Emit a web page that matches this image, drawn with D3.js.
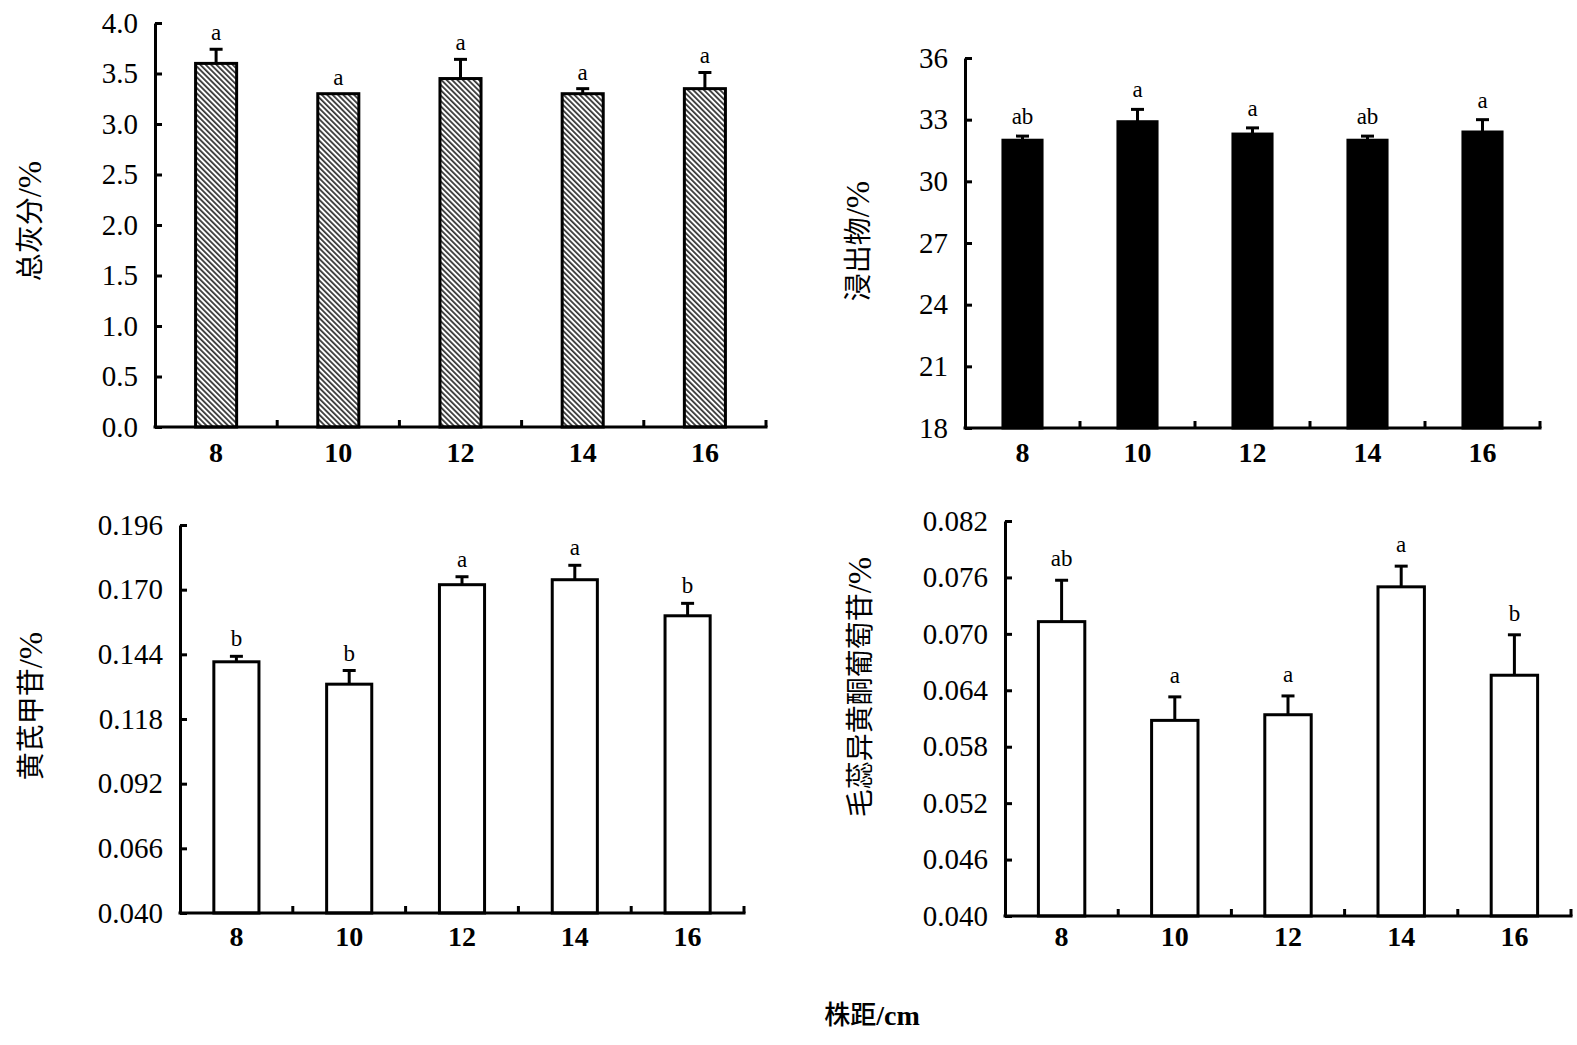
<!DOCTYPE html>
<html>
<head>
<meta charset="utf-8">
<script src="https://cdn.jsdelivr.net/npm/d3@7"></script>
<style>
  html, body { margin: 0; padding: 0; background: #fff; }
  svg { display: block; }
</style>
</head>
<body>
<svg id="chart" width="1577" height="1045"></svg>
<script>
// ---------------- DATA ----------------
const categories = ["8", "10", "12", "14", "16"];

const ashValues   = [3.60, 3.30, 3.45, 3.30, 3.35];
const ashErrors   = [0.14, 0.00, 0.19, 0.05, 0.16];
const ashLetters  = ["a", "a", "a", "a", "a"];
const ashTicks    = [0.0, 0.5, 1.0, 1.5, 2.0, 2.5, 3.0, 3.5, 4.0];

const extractValues  = [32.0, 32.9, 32.3, 32.0, 32.4];
const extractErrors  = [0.2, 0.6, 0.3, 0.2, 0.6];
const extractLetters = ["ab", "a", "a", "ab", "a"];
const extractTicks   = [18, 21, 24, 27, 30, 33, 36];

const astraValues  = [0.141, 0.132, 0.172, 0.174, 0.1595];
const astraErrors  = [0.0022, 0.0055, 0.0032, 0.0058, 0.0050];
const astraLetters = ["b", "b", "a", "a", "b"];
const astraTicks   = [0.040, 0.066, 0.092, 0.118, 0.144, 0.170, 0.196];

const calyValues  = [0.0713, 0.0608, 0.0614, 0.0750, 0.0656];
const calyErrors  = [0.0044, 0.0025, 0.0020, 0.0022, 0.0043];
const calyLetters = ["ab", "a", "a", "a", "b"];
const calyTicks   = [0.040, 0.046, 0.052, 0.058, 0.064, 0.070, 0.076, 0.082];

const yTitles = ["总灰分", "浸出物", "黄芪甲苷", "毛蕊异黄酮葡萄苷"];
const yUnit = "/%";
const xTitle = "株距";
const xUnit = "/cm";

// ---------------- DRAWING ----------------
const svg = d3.select("#chart");
const SERIF = "'Liberation Serif', 'Times New Roman', 'Noto Sans CJK SC', serif";

const defs = svg.append("defs");
const pat = defs.append("pattern")
  .attr("id", "hatch")
  .attr("patternUnits", "userSpaceOnUse")
  .attr("width", 3.8).attr("height", 10)
  .attr("patternTransform", "rotate(-45)");
pat.append("rect").attr("width", 3.8).attr("height", 10).attr("fill", "#fff");
pat.append("line").attr("x1", 0.9).attr("y1", 0).attr("x2", 0.9).attr("y2", 10)
  .attr("stroke", "#111").attr("stroke-width", 1.5);

const panels = [
  { values: ashValues, errors: ashErrors, letters: ashLetters, ticks: ashTicks, fmt: d3.format(".1f"),
    domain: [0, 4], x0: 155, x1: 766, yTop: 23, yBot: 427, frac: 0.336, fill: "url(#hatch)",
    title: yTitles[0], tx: 30, ty: 221, gap: 9, xlabDy: 37 },
  { values: extractValues, errors: extractErrors, letters: extractLetters, ticks: extractTicks, fmt: d3.format("d"),
    domain: [18, 36], x0: 965, x1: 1540, yTop: 58, yBot: 428, frac: 0.34, fill: "#000",
    title: yTitles[1], tx: 858, ty: 241, gap: 12, xlabDy: 36 },
  { values: astraValues, errors: astraErrors, letters: astraLetters, ticks: astraTicks, fmt: d3.format(".3f"),
    domain: [0.040, 0.196], x0: 180, x1: 744, yTop: 525, yBot: 913, frac: 0.40, fill: "#fff",
    title: yTitles[2], tx: 31, ty: 706, gap: 10, xlabDy: 35 },
  { values: calyValues, errors: calyErrors, letters: calyLetters, ticks: calyTicks, fmt: d3.format(".3f"),
    domain: [0.040, 0.082], x0: 1005, x1: 1571, yTop: 521, yBot: 916, frac: 0.41, fill: "#fff",
    title: yTitles[3], tx: 860, ty: 687, gap: 14, xlabDy: 32 }
];

panels.forEach(p => {
  const g = svg.append("g");
  const x = d3.scaleBand().domain(categories).range([p.x0, p.x1])
    .paddingInner(1 - p.frac).paddingOuter((1 - p.frac) / 2);
  const y = d3.scaleLinear().domain(p.domain).range([p.yBot, p.yTop]);
  const data = categories.map((c, i) => ({ c, v: p.values[i], e: p.errors[i], l: p.letters[i] }));

  // bars
  g.selectAll("rect.bar").data(data).join("rect")
    .attr("class", "bar")
    .attr("x", d => x(d.c))
    .attr("width", x.bandwidth())
    .attr("y", d => y(d.v))
    .attr("height", d => y(p.domain[0]) - y(d.v))
    .attr("fill", p.fill)
    .attr("stroke", "#000")
    .attr("stroke-width", 3);

  // error bars
  const eb = data.filter(d => d.e > 0);
  g.selectAll("line.ev").data(eb).join("line")
    .attr("x1", d => x(d.c) + x.bandwidth() / 2)
    .attr("x2", d => x(d.c) + x.bandwidth() / 2)
    .attr("y1", d => y(d.v))
    .attr("y2", d => y(d.v + d.e))
    .attr("stroke", "#000").attr("stroke-width", 3);
  g.selectAll("line.ec").data(eb).join("line")
    .attr("x1", d => x(d.c) + x.bandwidth() / 2 - 6.5)
    .attr("x2", d => x(d.c) + x.bandwidth() / 2 + 6.5)
    .attr("y1", d => y(d.v + d.e))
    .attr("y2", d => y(d.v + d.e))
    .attr("stroke", "#000").attr("stroke-width", 3);

  // letters
  g.selectAll("text.sig").data(data).join("text")
    .attr("x", d => x(d.c) + x.bandwidth() / 2)
    .attr("y", d => y(d.v + d.e) - p.gap)
    .attr("text-anchor", "middle")
    .attr("font-family", SERIF)
    .attr("font-size", 23)
    .attr("fill", "#000")
    .text(d => d.l);

  // y axis
  const ya = g.append("g")
    .attr("transform", `translate(${p.x0},0)`)
    .call(d3.axisLeft(y).tickValues(p.ticks).tickFormat(p.fmt)
      .tickSize(-7).tickSizeOuter(0).tickPadding(17));
  ya.select(".domain").attr("stroke", "#000").attr("stroke-width", 3);
  ya.selectAll(".tick line").attr("stroke", "#000").attr("stroke-width", 3);
  ya.selectAll(".tick text").attr("font-family", SERIF).attr("font-size", 29).attr("fill", "#000");

  // x axis
  const xa = g.append("g")
    .attr("transform", `translate(0,${p.yBot})`)
    .call(d3.axisBottom(x).tickSize(0).tickSizeOuter(0).tickPadding(p.xlabDy - 22));
  xa.select(".domain").attr("stroke", "#000").attr("stroke-width", 3)
    .attr("d", `M${p.x0 - 1.5},0H${p.x1 + 1.5}`);
  xa.selectAll(".tick text").attr("font-family", SERIF).attr("font-size", 28)
    .attr("font-weight", "bold").attr("fill", "#000");
  // boundary ticks (pointing upward)
  const bounds = d3.range(1, categories.length + 1).map(i => p.x0 + i * x.step());
  g.selectAll("line.bt").data(bounds).join("line")
    .attr("x1", d => d).attr("x2", d => d)
    .attr("y1", p.yBot).attr("y2", p.yBot - 7)
    .attr("stroke", "#000").attr("stroke-width", 3);

  // y title
  const t = g.append("text")
    .attr("transform", `translate(${p.tx},${p.ty}) rotate(-90)`)
    .attr("text-anchor", "middle")
    .attr("dominant-baseline", "central")
    .attr("font-family", SERIF)
    .attr("font-size", 28)
    .attr("fill", "#000");
  t.append("tspan").text(p.title);
  t.append("tspan").attr("font-size", 33).text(yUnit);
});

const xt = svg.append("text")
  .attr("x", 872).attr("y", 1015)
  .attr("text-anchor", "middle")
  .attr("dominant-baseline", "central")
  .attr("font-family", SERIF)
  .attr("font-size", 26)
  .attr("fill", "#000");
xt.append("tspan").attr("font-weight", "500").text(xTitle);
xt.append("tspan").attr("font-weight", "bold").attr("font-size", 28).text(xUnit);
</script>
</body>
</html>
